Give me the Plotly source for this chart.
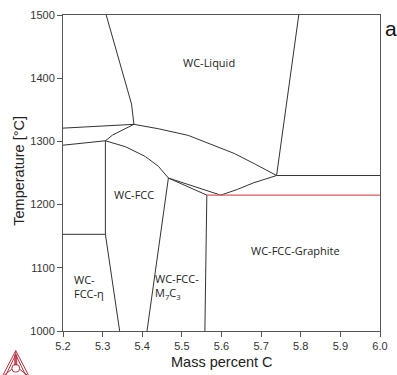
import plotly.graph_objects as go

# Phase boundaries of the WC-Co(-Fe) section, mass percent C vs temperature
liq_left_x = [5.309, 5.333, 5.358, 5.373, 5.379]
liq_left_t = [1500, 1447, 1395, 1359, 1327]

upper_tie_x = [5.2, 5.379]
upper_tie_t = [1321, 1327]

lower_tie_x = [5.2, 5.307]
lower_tie_t = [1294, 1301]

link_x = [5.307, 5.325, 5.379]
link_t = [1301, 1310, 1327]

fcc_left_x = [5.307, 5.307]
fcc_left_t = [1301, 1153]

eta_tie_x = [5.2, 5.307]
eta_tie_t = [1153, 1153]

eta_bound_x = [5.307, 5.343]
eta_bound_t = [1153, 1000]

liq_mid_x = [5.379, 5.441, 5.516, 5.632, 5.685, 5.739]
liq_mid_t = [1327, 1320, 1309.5, 1281, 1264, 1246]

liq_right_x = [5.795, 5.739]
liq_right_t = [1500, 1246]

gr_tie_x = [5.739, 6.0]
gr_tie_t = [1246, 1246]

gr_curve_x = [5.739, 5.681, 5.640, 5.598]
gr_curve_t = [1246, 1234.5, 1224, 1215]

fcc_upper_x = [5.307, 5.358, 5.408, 5.441, 5.466]
fcc_upper_t = [1301, 1291.5, 1276, 1260.4, 1242]

m7_a_x = [5.466, 5.598]
m7_a_t = [1242, 1215]

m7_b_x = [5.466, 5.563]
m7_b_t = [1242, 1215]

m7_left_x = [5.466, 5.412]
m7_left_t = [1242, 1000]

m7_right_x = [5.563, 5.558]
m7_right_t = [1215, 1000]

eutectoid_x = [5.563, 6.0]
eutectoid_t = [1215, 1215]

boundaries = [
    (liq_left_x, liq_left_t), (upper_tie_x, upper_tie_t), (lower_tie_x, lower_tie_t),
    (link_x, link_t), (fcc_left_x, fcc_left_t), (eta_tie_x, eta_tie_t),
    (eta_bound_x, eta_bound_t), (liq_mid_x, liq_mid_t), (liq_right_x, liq_right_t),
    (gr_tie_x, gr_tie_t), (gr_curve_x, gr_curve_t), (fcc_upper_x, fcc_upper_t),
    (m7_a_x, m7_a_t), (m7_b_x, m7_b_t), (m7_left_x, m7_left_t), (m7_right_x, m7_right_t),
]

# Phase-field labels
region_text = ["WC-Liquid", "WC-FCC", "WC-<br>FCC-η", "WC-FCC-<br>M<sub>7</sub>C<sub>3</sub>", "WC-FCC-Graphite"]
region_x = [5.568, 5.379, 5.265, 5.488, 5.786]
region_t = [1425, 1216, 1071, 1071, 1127]
region_align = ["center", "center", "left", "left", "center"]

fig = go.Figure()
for bx, bt in boundaries:
    fig.add_trace(go.Scatter(x=bx, y=bt, mode="lines",
                             line=dict(color="#333333", width=1),
                             hoverinfo="skip", showlegend=False))
fig.add_trace(go.Scatter(x=eutectoid_x, y=eutectoid_t, mode="lines",
                         line=dict(color="#e05a5a", width=1.2),
                         hoverinfo="skip", showlegend=False))

W, H = 397, 375
L, R, T, B = 63, 12, 9, 44
PW, PH = W - L - R, H - T - B


def px(x):
    return (x - L) / PW


def py(y):
    return (H - B - y) / PH


annotations = []
for txt, x, t, al in zip(region_text, region_x, region_t, region_align):
    annotations.append(dict(x=x, y=t, xref="x", yref="y", text=txt, showarrow=False,
                            align=al, font=dict(family="Open Sans", size=11, color="#222")))

annotations += [
    dict(x=0.5, y=py(363), xref="paper", yref="paper", text="Mass percent C",
         showarrow=False, xanchor="center", yanchor="middle",
         font=dict(family="Liberation Sans, Arial", size=14.5, color="#222")),
    dict(x=px(18), y=py(168), xref="paper", yref="paper", text="Temperature [°C]",
         showarrow=False, textangle=-90, xanchor="center", yanchor="middle",
         font=dict(family="Liberation Sans, Arial", size=14.5, color="#222")),
    dict(x=px(388), y=py(23), xref="paper", yref="paper", text="a",
         showarrow=False, xanchor="left", yanchor="middle",
         font=dict(family="Liberation Sans, Arial", size=21, color="#111")),
]

# Software logo in the lower-left corner
logo_col = "#b5303c"
shapes = []


def seg(x0, y0, x1, y1):
    shapes.append(dict(type="line", xref="paper", yref="paper",
                       x0=px(x0), y0=py(y0), x1=px(x1), y1=py(y1),
                       line=dict(color=logo_col, width=1)))


seg(15, 351, 1, 378)
seg(15, 351, 29, 378)
seg(15, 355, 4, 378)
seg(15, 355, 26, 378)
seg(15, 351, 15, 366)
seg(14, 355, 14, 366)
seg(16, 355, 16, 366)
seg(11, 370, 2, 377)
seg(19, 370, 28, 377)
shapes.append(dict(type="circle", xref="paper", yref="paper",
                   x0=px(11), y0=py(373), x1=px(19), y1=py(365),
                   line=dict(color=logo_col, width=1)))

axis_common = dict(showgrid=False, zeroline=False, showline=True, mirror=True,
                   linecolor="#555555", linewidth=1, ticks="outside", ticklen=5,
                   tickcolor="#555555", tickfont=dict(family="Liberation Sans, Arial", size=11, color="#333"))

fig.update_layout(
    width=W, height=H,
    margin=dict(l=L, r=R, t=T, b=B),
    paper_bgcolor="white", plot_bgcolor="white",
    xaxis=dict(range=[5.2, 6.0], dtick=0.1, tickformat=".1f", **axis_common),
    yaxis=dict(range=[1000, 1500], dtick=100, **axis_common),
    annotations=annotations,
    shapes=shapes,
)

fig.write_html("out.html")
